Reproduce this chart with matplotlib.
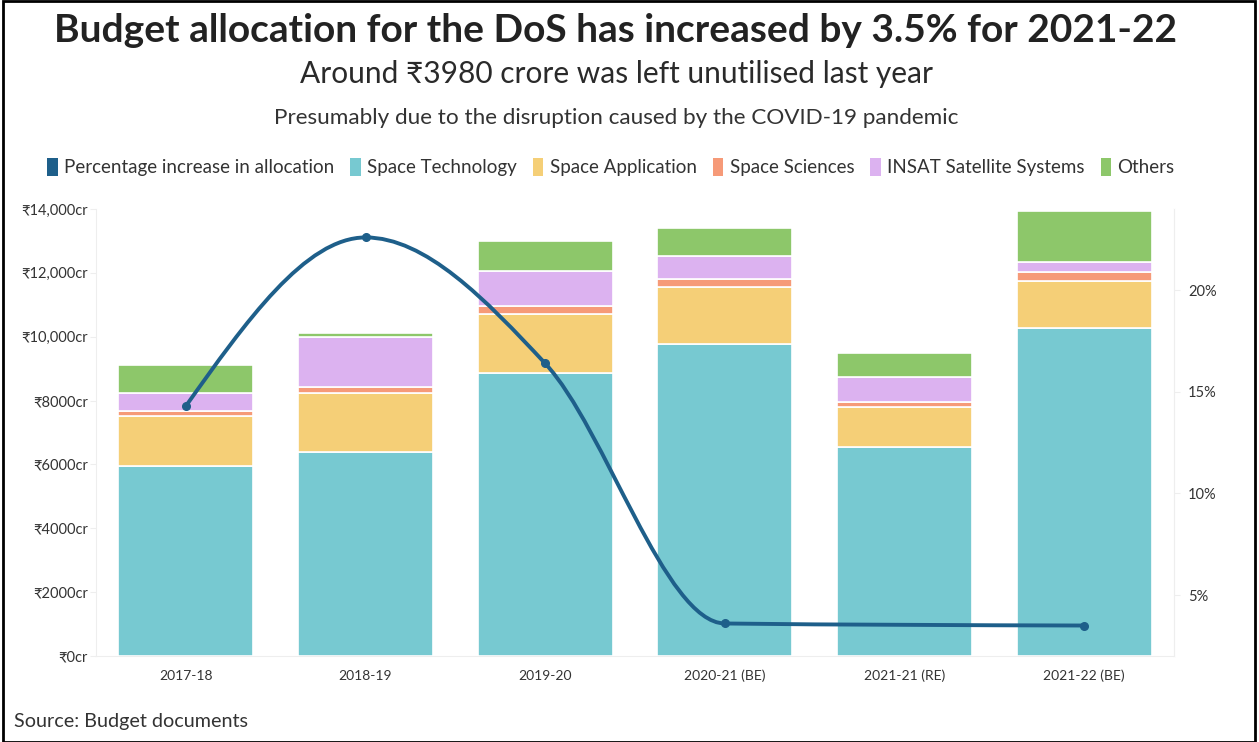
import matplotlib
matplotlib.use("Agg")
import matplotlib.pyplot as plt
import numpy as np
from matplotlib.path import Path
from matplotlib.patches import PathPatch, Patch, Rectangle

plt.rcParams["font.family"] = ["Lato", "Noto Sans", "DejaVu Sans"]

# ---- data ----
years = ["2017-18", "2018-19", "2019-20", "2020-21 (BE)", "2021-21 (RE)", "2021-22 (BE)"]
space_technology = [5950, 6390, 8870, 9770, 6555, 10260]
space_application = [1560, 1840, 1830, 1790, 1235, 1480]
space_sciences = [160, 205, 260, 250, 175, 290]
insat_systems = [560, 1565, 1095, 720, 785, 315]
others = [880, 105, 950, 880, 735, 1590]

# percentage increase in allocation (no value for 2021-21 RE)
pct_years = [0, 1, 2, 3, 5]
pct_increase = [14.3, 22.6, 16.4, 3.6, 3.5]

series = [
    ("Space Technology", space_technology, "#77c9d1"),
    ("Space Application", space_application, "#f5cf77"),
    ("Space Sciences", space_sciences, "#f69a78"),
    ("INSAT Satellite Systems", insat_systems, "#dcb2f0"),
    ("Others", others, "#8dc76a"),
]
line_color = "#1e5f8a"

left_ticks = [0, 2000, 4000, 6000, 8000, 10000, 12000, 14000]
left_labels = ["₹0cr", "₹2000cr", "₹4000cr", "₹6000cr", "₹8000cr",
               "₹10,000cr", "₹12,000cr", "₹14,000cr"]
right_ticks = [5, 10, 15, 20]
right_labels = ["5%", "10%", "15%", "20%"]


def monotone_path(xs, ys):
    """Bezier path like d3.curveMonotoneX."""
    xs = np.asarray(xs, float)
    ys = np.asarray(ys, float)
    n = len(xs)
    h = np.diff(xs)
    s = np.diff(ys) / h
    t = np.zeros(n)
    for i in range(1, n - 1):
        h0, h1, s0, s1 = h[i - 1], h[i], s[i - 1], s[i]
        p = (s0 * h1 + s1 * h0) / (h0 + h1)
        t[i] = (np.sign(s0) + np.sign(s1)) * min(abs(s0), abs(s1), 0.5 * abs(p))
    t[0] = (3 * s[0] - t[1]) / 2
    t[-1] = (3 * s[-1] - t[-2]) / 2
    verts = [(xs[0], ys[0])]
    codes = [Path.MOVETO]
    for i in range(n - 1):
        dx = h[i] / 3
        verts += [(xs[i] + dx, ys[i] + dx * t[i]),
                  (xs[i + 1] - dx, ys[i + 1] - dx * t[i + 1]),
                  (xs[i + 1], ys[i + 1])]
        codes += [Path.CURVE4] * 3
    return Path(verts, codes)


W, H = 1259, 742
fig = plt.figure(figsize=(W / 100, H / 100), dpi=100)


def fx(x):
    return x / W


def fy(y):
    return 1 - y / H


ax = fig.add_axes([fx(96), fy(656), fx(1174 - 96), (656 - 209) / H])
x = np.arange(len(years))
bottom = np.zeros(len(years))
for name, vals, color in series:
    ax.bar(x, vals, bottom=bottom, width=0.75, color=color,
           edgecolor="white", linewidth=1.2, zorder=2)
    bottom += np.array(vals)

ax.set_xlim(-0.5, len(years) - 0.5)
ax.set_ylim(0, 14000)
ax.set_yticks(left_ticks)
ax.set_yticklabels(left_labels, fontsize=10.5, color="#333333")
ax.set_xticks(x)
ax.set_xticklabels(years, fontsize=10, color="#333333")
ax.tick_params(axis="y", length=4, color="#eeeeee", pad=2)
ax.tick_params(axis="x", length=0, pad=10)
ax.spines["top"].set_visible(False)
for side in ["left", "right", "bottom"]:
    ax.spines[side].set_color("#eeeeee")

ax2 = ax.twinx()
ax2.set_ylim(2, 24)
ax2.set_yticks(right_ticks)
ax2.set_yticklabels(right_labels, fontsize=10.5, color="#333333")
ax2.tick_params(axis="y", length=4, color="#eeeeee", pad=6)
for side in ["top", "left", "bottom"]:
    ax2.spines[side].set_visible(False)
ax2.spines["right"].set_color("#eeeeee")

ax2.add_patch(PathPatch(monotone_path(pct_years, pct_increase), facecolor="none",
                        edgecolor=line_color, linewidth=2.8, zorder=3))
ax2.plot(pct_years, pct_increase, "o", color=line_color, markersize=5.5, zorder=4)

# ---- titles ----
fig.text(fx(616), fy(31), "Budget allocation for the DoS has increased by 3.5% for 2021-22",
         ha="center", va="center", fontsize=28, fontweight="bold", color="#222222")
fig.text(fx(616), fy(74), "Around ₹3980 crore was left unutilised last year",
         ha="center", va="center", fontsize=21.5, color="#2a2a2a")
fig.text(fx(616), fy(118), "Presumably due to the disruption caused by the COVID-19 pandemic",
         ha="center", va="center", fontsize=16.2, color="#333333")

handles = [Patch(facecolor=line_color, edgecolor="none")]
labels = ["Percentage increase in allocation"]
for name, vals, color in series:
    handles.append(Patch(facecolor=color, edgecolor="none"))
    labels.append(name)
fig.legend(handles, labels, loc="center", bbox_to_anchor=(fx(611), fy(167)), ncol=6,
           frameon=False, fontsize=13.5, handlelength=0.55, handleheight=1.1,
           handletextpad=0.35, columnspacing=0.85, labelcolor="#333333")

fig.text(fx(14), fy(722), "Source: Budget documents", ha="left", va="center",
         fontsize=14.2, color="#333333")

# frame around the picture
fig.add_artist(Rectangle((0.002, 0.0), 0.995, 0.998, transform=fig.transFigure,
                         fill=False, edgecolor="black", linewidth=2))

fig.savefig("out.png", dpi=100)
